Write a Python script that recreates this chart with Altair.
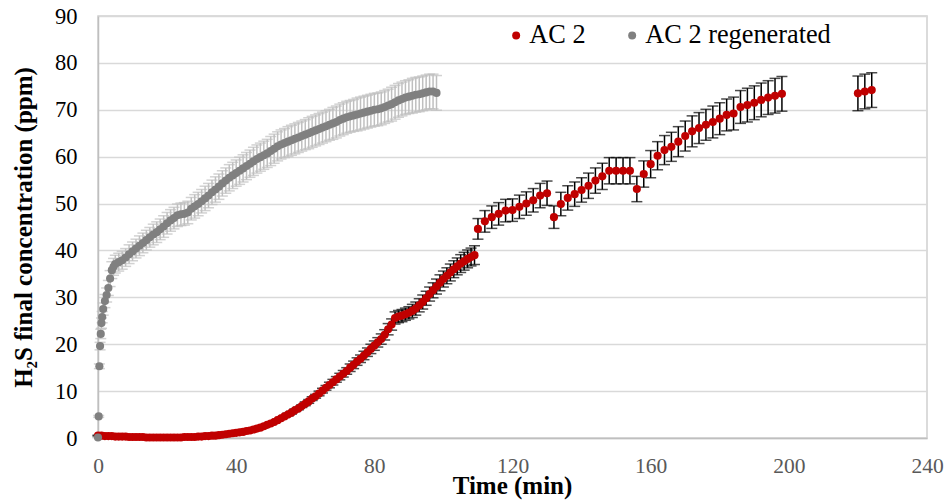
import altair as alt
import pandas as pd

series_names = ["AC 2", "AC 2 regenerated"]
series_colors = ["#C00000", "#808080"]
errbar_colors = ["#000000", "#BFBFBF"]
x_ticks = [0, 40, 80, 120, 160, 200, 240]
y_ticks = [0, 10, 20, 30, 40, 50, 60, 70, 80, 90]

# ---- AC 2 (red) ----
red_time = list(range(0, 110)) + list(range(110, 199, 2)) + [220, 222, 224]
red_value = [
    0.5, 0.5, 0.4, 0.4, 0.4, 0.3, 0.3, 0.3, 0.3, 0.2,
    0.2, 0.2, 0.2, 0.2, 0.1, 0.1, 0.1, 0.1, 0.1, 0.1,
    0.1, 0.1, 0.1, 0.1, 0.1, 0.2, 0.2, 0.2, 0.2, 0.3,
    0.3, 0.4, 0.4, 0.5, 0.5, 0.6, 0.7, 0.8, 0.9, 1.0,
    1.1, 1.2, 1.3, 1.5, 1.6, 1.8, 2.0, 2.2, 2.5, 2.8,
    3.1, 3.4, 3.8, 4.2, 4.6, 5.0, 5.4, 5.9, 6.3, 6.8,
    7.3, 7.8, 8.4, 8.9, 9.5, 10.1, 10.7, 11.3, 11.9, 12.5,
    13.1, 13.7, 14.3, 15.0, 15.6, 16.3, 16.9, 17.6, 18.3, 19.0,
    19.7, 20.4, 21.1, 22.0, 23.2, 24.2, 25.6, 25.9, 26.1, 26.4,
    26.7, 27.1, 27.6, 28.3, 29.0, 29.8, 30.7, 31.5, 32.3, 33.1,
    33.9, 34.6, 35.3, 36.0, 36.6, 37.2, 37.7, 38.2, 38.6, 39.0,
    # 110 .. 198 step 2
    44.6, 46.2, 47.1, 47.8, 48.5, 48.6, 49.3, 50.0, 50.7, 51.7,
    52.2, 47.1, 49.9, 51.2, 52.0, 52.9, 53.8, 54.9, 55.8, 57.0,
    57.0, 57.0, 57.0, 53.1, 56.3, 58.4, 60.2, 61.4, 62.1, 63.2,
    64.4, 65.4, 66.1, 66.8, 67.4, 68.1, 68.9, 69.2, 70.6, 71.0,
    71.5, 72.1, 72.6, 73.0, 73.4,
    # 220, 222, 224
    73.5, 73.9, 74.2,
]
red_error = [
    0.1, 0.1, 0.1, 0.1, 0.1, 0.1, 0.1, 0.1, 0.1, 0.1,
    0.1, 0.1, 0.1, 0.1, 0.1, 0.1, 0.1, 0.1, 0.1, 0.1,
    0.1, 0.1, 0.1, 0.1, 0.1, 0.1, 0.1, 0.1, 0.1, 0.1,
    0.1, 0.1, 0.1, 0.1, 0.1, 0.1, 0.1, 0.1, 0.1, 0.1,
    0.1, 0.1, 0.1, 0.1, 0.1, 0.1, 0.1, 0.1, 0.2, 0.2,
    0.2, 0.2, 0.2, 0.2, 0.2, 0.3, 0.3, 0.3, 0.3, 0.3,
    0.4, 0.4, 0.4, 0.4, 0.5, 0.5, 0.5, 0.6, 0.6, 0.6,
    0.7, 0.7, 0.7, 0.8, 0.8, 0.8, 0.8, 0.9, 0.9, 1.0,
    1.0, 1.0, 1.1, 1.1, 1.2, 1.2, 1.3, 1.3, 1.3, 1.3,
    1.3, 1.4, 1.4, 1.4, 1.5, 1.5, 1.5, 1.6, 1.6, 1.7,
    1.7, 1.7, 1.8, 1.8, 1.8, 1.9, 1.9, 1.9, 1.9, 2.0,
    2.2, 2.3, 2.4, 2.4, 2.4, 2.4, 2.5, 2.5, 2.5, 2.6,
    2.6, 2.4, 2.5, 2.6, 2.6, 2.6, 2.7, 2.7, 2.8, 2.8,
    2.8, 2.8, 2.8, 2.7, 2.8, 2.9, 3.0, 3.1, 3.1, 3.2,
    3.2, 3.3, 3.3, 3.3, 3.4, 3.4, 3.4, 3.5, 3.5, 3.6,
    3.6, 3.6, 3.6, 3.7, 3.7,
    3.7, 3.7, 3.7,
]

# ---- AC 2 regenerated (grey) ----
gray_time = [0, 0.2, 0.4, 0.6, 0.8, 1.0, 1.2, 1.5, 2.0, 2.5, 3.0, 3.5, 4.0, 4.5] + list(range(5, 99))
gray_value = [
    0.1, 4.6, 15.3, 19.6, 22.2, 24.5, 25.8, 27.5, 29.2, 30.5, 32.0, 34.0, 35.8, 36.5,
    37.1, 37.5, 37.9, 38.5, 39.2, 39.8, 40.4, 41.0, 41.6, 42.2,
    42.8, 43.4, 43.9, 44.5, 45.1, 45.8, 46.4, 46.9, 47.5, 47.7,
    47.8, 48.1, 48.9, 49.4, 49.9, 50.5, 51.1, 51.7, 52.4, 53.0,
    53.6, 54.3, 54.9, 55.5, 56.0, 56.5, 57.0, 57.5, 58.0, 58.5,
    59.0, 59.5, 59.9, 60.3, 60.7, 61.2, 61.7, 62.2, 62.6, 62.9,
    63.2, 63.5, 63.8, 64.1, 64.4, 64.7, 65.0, 65.3, 65.6, 65.9,
    66.2, 66.5, 66.8, 67.1, 67.4, 67.8, 68.1, 68.4, 68.6, 68.8,
    69.0, 69.2, 69.4, 69.6, 69.8, 70.0, 70.1, 70.3, 70.6, 70.9,
    71.2, 71.6, 72.0, 72.3, 72.6, 72.8, 73.0, 73.2, 73.3, 73.5,
    73.7, 73.9, 73.9, 73.6,
]
gray_error = [
    0.0, 0.2, 0.5, 0.8, 1.0, 1.1, 1.2, 1.3, 1.4, 1.5, 1.6, 1.7, 1.8, 1.8,
    1.9, 1.9, 1.9, 1.9, 2.0, 2.0, 2.0, 2.1, 2.1, 2.1,
    2.1, 2.2, 2.2, 2.2, 2.3, 2.3, 2.3, 2.3, 2.4, 2.4,
    2.4, 2.4, 2.4, 2.5, 2.5, 2.5, 2.6, 2.6, 2.6, 2.7,
    2.7, 2.7, 2.7, 2.8, 2.8, 2.8, 2.9, 2.9, 2.9, 2.9,
    3.0, 3.0, 3.0, 3.0, 3.0, 3.1, 3.1, 3.1, 3.1, 3.1,
    3.2, 3.2, 3.2, 3.2, 3.2, 3.2, 3.3, 3.3, 3.3, 3.3,
    3.3, 3.3, 3.3, 3.4, 3.4, 3.4, 3.4, 3.4, 3.4, 3.4,
    3.5, 3.5, 3.5, 3.5, 3.5, 3.5, 3.5, 3.5, 3.5, 3.5,
    3.6, 3.6, 3.6, 3.6, 3.6, 3.6, 3.7, 3.7, 3.7, 3.7,
    3.7, 3.7, 3.7, 3.7,
]

assert len(red_time) == len(red_value) == len(red_error)
assert len(gray_time) == len(gray_value) == len(gray_error)

rows = []
for t, v, e in zip(red_time, red_value, red_error):
    rows.append({"time": t, "value": v, "lo": v - e, "hi": v + e, "series": series_names[0]})
for t, v, e in zip(gray_time, gray_value, gray_error):
    rows.append({"time": t, "value": v, "lo": v - e, "hi": v + e, "series": series_names[1]})
df = pd.DataFrame(rows)
df["order"] = range(len(df))

FONT = "Liberation Serif, Times New Roman, DejaVu Serif, serif"

x_axis = alt.Axis(
    values=x_ticks, title="Time (min)", grid=False, ticks=False, tickSize=0,
    labelColor="#595959", labelFont=FONT, labelFontSize=21.5, labelPadding=28,
    labelBaseline="middle", labelFlush=False, labelOverlap=False,
    domainColor="#BFBFBF", domainWidth=1.5,
    titleFont=FONT, titleFontSize=25, titleFontWeight="bold", titleColor="#000000",
    titleX=414, titleY=47, titleBaseline="middle", titleAlign="center",
)
y_axis = alt.Axis(
    values=y_ticks, title="H\u2082S final concentration (ppm)", grid=True,
    gridColor="#D9D9D9", gridWidth=1.5, ticks=False, tickSize=0,
    labelColor="#000000", labelFont=FONT, labelFontSize=22.5, labelPadding=21,
    labelBaseline="middle", labelFlush=False, labelOverlap=False,
    domainColor="#BFBFBF", domainWidth=1.5,
    titleFont=FONT, titleFontSize=25, titleFontWeight="bold", titleColor="#000000",
    titleX=-75, titleY=211, titleAngle=270, titleBaseline="middle", titleAlign="center",
)
x_scale = alt.Scale(domain=[0, 240], nice=False, zero=False)
y_scale = alt.Scale(domain=[0, 90], nice=False)

layers = []
for name, ecol in zip(series_names, errbar_colors):
    sub = df[df["series"] == name]
    eb = alt.Chart(sub).mark_errorbar(
        color=ecol, thickness=1.5, ticks={"size": 11, "thickness": 1.5}
    ).encode(
        x=alt.X("time:Q", scale=x_scale, axis=x_axis),
        y=alt.Y("lo:Q", scale=y_scale, axis=y_axis),
        y2="hi:Q",
    )
    layers.append(eb)

points = alt.Chart(df).mark_circle(size=66, opacity=1).encode(
    x=alt.X("time:Q", scale=x_scale, axis=x_axis),
    y=alt.Y("value:Q", scale=y_scale, axis=y_axis),
    color=alt.Color(
        "series:N",
        scale=alt.Scale(domain=series_names, range=series_colors),
        legend=alt.Legend(
            title=None, orient="none", direction="horizontal", columns=2,
            legendX=405, legendY=6, labelFont=FONT, labelFontSize=26.3,
            labelColor="#000000", symbolSize=64, symbolType="circle",
            labelOffset=0, columnPadding=33, padding=0, labelLimit=0,
            symbolStrokeWidth=0,
        ),
    ),
    order=alt.Order("order:Q"),
)
layers.append(points)

chart = alt.layer(*layers).properties(
    width=829, height=422,
    autosize=alt.AutoSizeParams(type="none"),
    padding={"left": 90, "top": 8, "right": 17, "bottom": 62},
    background="white",
).configure_view(
    stroke="#D0D0D0", strokeWidth=1.5
)

chart.save("out.html", embed_options={"renderer": "svg", "actions": False})
